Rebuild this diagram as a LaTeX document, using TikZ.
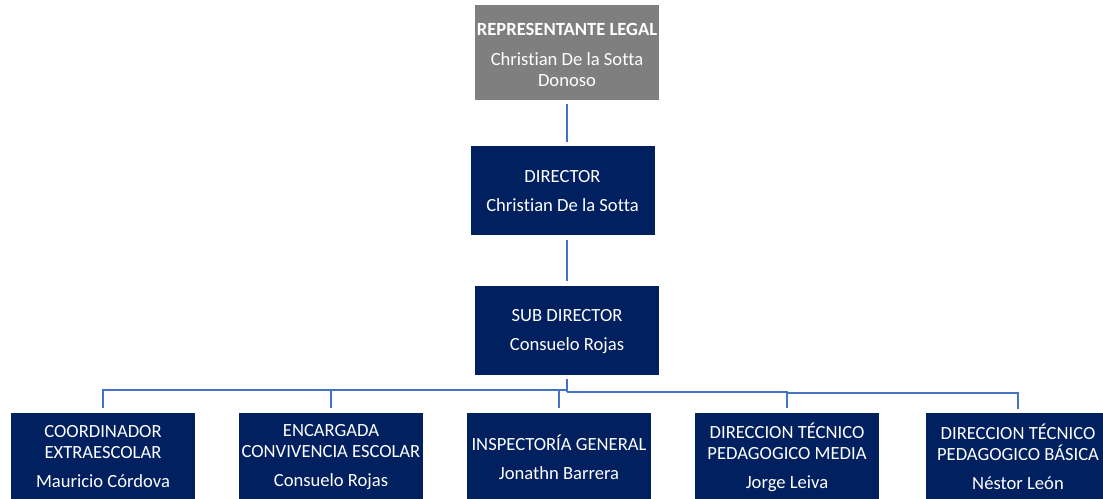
\documentclass[tikz,border=0pt]{standalone}
\usepackage{fontspec}
\setmainfont{Carlito}[Ligatures={NoCommon}]
\definecolor{navy}{HTML}{002060}
\definecolor{grayfill}{HTML}{7F7F7F}
\definecolor{conncol}{HTML}{4472C4}
\begin{document}
\begin{tikzpicture}[x=1pt,y=-1pt,
  box/.style={draw=none, fill=navy, text=white, align=center, minimum width=184pt, minimum height=89pt, inner sep=0pt, font=\fontsize{18.6}{21}\selectfont},
  topbox/.style={box, fill=grayfill, minimum height=95pt},
  lowbox/.style={box, minimum height=88pt},
  conn/.style={draw=conncol, line width=2pt},
]
\clip (0,0) rectangle (1103,498);
\fill[white] (0,0) rectangle (1103,498);

\node[topbox] (rep) at (567,52.5) {};
\node[align=center, text=white, inner sep=0pt, font=\fontsize{18.6}{21}\selectfont] (reptext) at (567,55) {\textbf{REPRESENTANTE LEGAL}\\[9pt]Christian De la Sotta\\Donoso};
\node[box] (dir) at (562.5,190.5) {};
\node[align=center, text=white, inner sep=0pt, font=\fontsize{18.6}{21}\selectfont] (dirtext) at (562.5,191.5) {DIRECTOR\\[8pt]Christian De la Sotta};
\node[box] (sub) at (567,330.5) {};
\node[align=center, text=white, inner sep=0pt, font=\fontsize{18.6}{21}\selectfont] (subtext) at (567,331.5) {SUB DIRECTOR\\[8pt]Consuelo Rojas};

\node[lowbox] (b1) at (103,457) {COORDINADOR\\EXTRAESCOLAR\\[8pt]Mauricio Córdova};
\node[lowbox] (b2) at (331,457) {ENCARGADA\\CONVIVENCIA ESCOLAR\\[8pt]Consuelo Rojas};
\node[lowbox] (b3) at (559,457) {INSPECTORÍA GENERAL\\[8pt]Jonathn Barrera};
\node[lowbox] (b4) at (787,457) {DIRECCION TÉCNICO\\PEDAGOGICO MEDIA\\[8pt]Jorge Leiva};
\node[lowbox] (b5) at (1018,457) {DIRECCION TÉCNICO\\PEDAGOGICO BÁSICA\\[8pt]Néstor León};

\draw[conn, shorten <=4pt, shorten >=4pt] (rep.south) -- (rep.south |- dir.north);
\draw[conn, shorten <=5pt, shorten >=5pt] (rep.south |- dir.south) -- (rep.south |- sub.north);

\draw[conn] (sub.south) ++(0,4) coordinate (s0) -- (s0 |- 0,392);
\draw[conn, shorten >=5pt] (sub.south |- 0,390) -| (b1.north);
\draw[conn, shorten >=5pt] (sub.south |- 0,390) -| (b2.north);
\draw[conn, shorten >=5pt] (sub.south |- 0,390) -| (b3.north);
\draw[conn, shorten >=5pt] (sub.south |- 0,392) -| (b4.north);
\draw[conn, shorten >=4pt] (b4.north |- 0,392) -- (b4.north |- 0,393) -| (b5.north);
\end{tikzpicture}
\end{document}
